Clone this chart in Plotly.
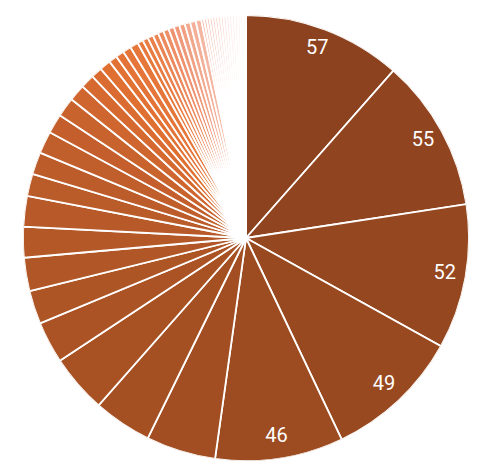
import numpy as np
import plotly.graph_objects as go

values = [57, 55, 52, 49, 46,
          25, 21, 21, 15, 12, 12, 11, 11, 8, 8, 8, 7, 7, 6, 5,
          4, 4, 3, 3, 3, 3,
          2, 2, 2, 2, 2, 2, 2, 2, 2, 2, 2, 2,
          1, 1, 1, 1, 1, 1, 1, 1, 1, 1, 1, 1, 1, 1, 1, 1]
labels = [f"item {i+1}" for i in range(len(values))]
shown = 5

stops = [(0.0, (140, 66, 30)), (0.1, (163, 79, 34)), (0.3, (195, 95, 45)),
         (0.4, (225, 112, 50)), (0.5, (232, 122, 62)), (0.6, (238, 145, 110)),
         (0.72, (245, 190, 172)), (0.86, (250, 226, 218)), (1.0, (255, 250, 250))]

def color_at(t):
    for (t0, c0), (t1, c1) in zip(stops, stops[1:]):
        if t <= t1:
            f = (t - t0) / (t1 - t0) if t1 > t0 else 0
            c = [round(a + (b - a) * f) for a, b in zip(c0, c1)]
            return f"rgb({c[0]},{c[1]},{c[2]})"
    c = stops[-1][1]
    return f"rgb({c[0]},{c[1]},{c[2]})"

n = len(values)
colors = [color_at(i / (n - 1)) for i in range(n)]

vals = np.array(values, dtype=float)
total = vals.sum()
widths = vals / total * 360.0
ends = np.cumsum(widths)
mids = ends - widths / 2

fig = go.Figure()
fig.add_trace(go.Barpolar(
    r=[1] * n, theta=mids, width=widths, base=0,
    marker=dict(color=colors, line=dict(color="white", width=1.8)),
    text=labels, customdata=values,
    hovertemplate="%{text}: %{customdata}<extra></extra>",
    showlegend=False,
))
fig.add_trace(go.Scatterpolar(
    r=[0.905] * shown, theta=mids[:shown], mode="text",
    text=[str(v) for v in values[:shown]],
    textfont=dict(color="white", size=20, family="Roboto"),
    hoverinfo="skip", showlegend=False,
))
fig.update_layout(
    width=485, height=473,
    margin=dict(l=15, r=24, t=7, b=20),
    paper_bgcolor="white", plot_bgcolor="white",
    showlegend=False,
    polar=dict(
        bgcolor="white",
        radialaxis=dict(visible=False, range=[0, 1]),
        angularaxis=dict(visible=False, rotation=90, direction="clockwise"),
        bargap=0,
    ),
)
fig.write_html("out.html")
